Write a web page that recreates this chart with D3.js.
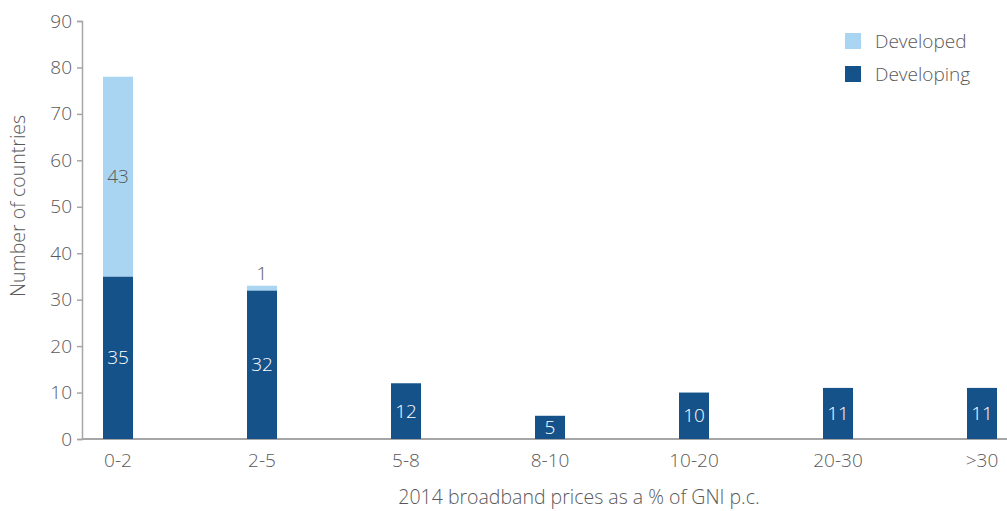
<!DOCTYPE html>
<html>
<head>
<meta charset="utf-8">
<script src="https://cdn.jsdelivr.net/npm/d3@7"></script>
<style>
  body { margin: 0; background: #fff; }
  svg text { font-family: "Open Sans", "Noto Sans", sans-serif; font-weight: 300; fill: #595959; }
</style>
</head>
<body>
<div id="chart"></div>
<script>
// data
var categories = ["0-2", "2-5", "5-8", "8-10", "10-20", "20-30", ">30"];
var developing = [35, 32, 12, 5, 10, 11, 11];
var developed = [43, 1, 0, 0, 0, 0, 0];
var yTicks = [0, 10, 20, 30, 40, 50, 60, 70, 80, 90];

var svgWidth = 1007;
var svgHeight = 511;
var colDeveloped = "#a9d5f2";
var colDeveloping = "#15528a";
var fs = "19px";

var svg = d3.select("#chart").append("svg")
  .attr("width", svgWidth)
  .attr("height", svgHeight);

var x = d3.scalePoint().domain(categories).range([118, 982]);
var y = d3.scaleLinear().domain([0, 90]).range([439, 21]);
var barW = 30;

// y axis
var yAxis = svg.append("g")
  .attr("transform", "translate(82,0)")
  .call(d3.axisLeft(y).tickValues(yTicks).tickSize(5).tickPadding(5));
yAxis.select(".domain").attr("stroke", "#a6a6a6").attr("stroke-width", 1.5);
yAxis.selectAll(".tick line").attr("stroke", "#a6a6a6").attr("stroke-width", 1.5);
yAxis.selectAll(".tick text").style("font-size", fs).attr("fill", "#595959");

// x axis line
svg.append("line")
  .attr("x1", 82).attr("x2", svgWidth)
  .attr("y1", y(0)).attr("y2", y(0))
  .attr("stroke", "#a6a6a6").attr("stroke-width", 2);

svg.append("g").selectAll("text")
  .data(categories)
  .enter().append("text")
  .attr("x", d => x(d))
  .attr("y", 467)
  .attr("text-anchor", "middle")
  .style("font-size", fs)
  .text(d => d);

var rows = categories.map((c, i) => ({ cat: c, dev: developing[i], ed: developed[i] }));

// developing bars
svg.append("g").selectAll("rect")
  .data(rows)
  .enter().append("rect")
  .attr("x", d => x(d.cat) - barW / 2)
  .attr("y", d => y(d.dev))
  .attr("width", barW)
  .attr("height", d => y(0) - y(d.dev))
  .attr("fill", colDeveloping);

// developed bars stacked on top
svg.append("g").selectAll("rect")
  .data(rows.filter(d => d.ed > 0))
  .enter().append("rect")
  .attr("x", d => x(d.cat) - barW / 2)
  .attr("y", d => y(d.dev + d.ed))
  .attr("width", barW)
  .attr("height", d => y(d.dev) - y(d.dev + d.ed))
  .attr("fill", colDeveloped);

// labels for developing
svg.append("g").selectAll("text")
  .data(rows)
  .enter().append("text")
  .attr("x", d => x(d.cat))
  .attr("y", d => y(d.dev / 2))
  .attr("dy", "0.35em")
  .attr("text-anchor", "middle")
  .style("font-size", fs)
  .style("fill", "#ffffff")
  .text(d => d.dev);

// labels for developed (small ones sit above the bar)
svg.append("g").selectAll("text")
  .data(rows.filter(d => d.ed > 0))
  .enter().append("text")
  .attr("x", d => x(d.cat))
  .attr("y", d => d.ed < 5 ? y(d.dev + d.ed) - 6 : y(d.dev + d.ed / 2))
  .attr("dy", d => d.ed < 5 ? "0" : "0.35em")
  .attr("text-anchor", "middle")
  .style("font-size", fs)
  .text(d => d.ed);

// legend
var legend = [["Developed", colDeveloped], ["Developing", colDeveloping]];
var lg = svg.append("g").selectAll("g")
  .data(legend)
  .enter().append("g")
  .attr("transform", (d, i) => `translate(845, ${33 + i * 33})`);
lg.append("rect").attr("width", 16).attr("height", 16).attr("fill", d => d[1]);
lg.append("text")
  .attr("x", 30).attr("y", 8).attr("dy", "0.35em")
  .style("font-size", fs)
  .text(d => d[0]);

// axis titles
svg.append("text")
  .attr("x", 579).attr("y", 504)
  .attr("text-anchor", "middle")
  .style("font-size", "19.5px")
  .text("2014 broadband prices as a % of GNI p.c.");

svg.append("text")
  .attr("transform", "translate(25, 206) rotate(-90)")
  .attr("text-anchor", "middle")
  .style("font-size", "19.5px")
  .text("Number of countries");
</script>
</body>
</html>
